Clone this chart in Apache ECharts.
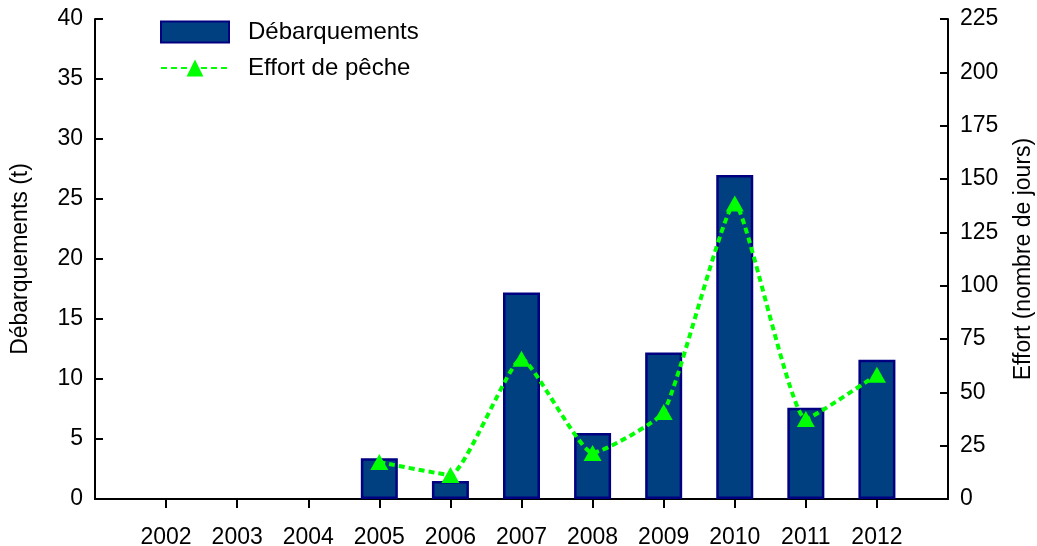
<!DOCTYPE html>
<html>
<head>
<meta charset="utf-8">
<script src="https://cdn.jsdelivr.net/npm/echarts@6/dist/echarts.min.js"></script>
<style>
  html, body { margin: 0; padding: 0; background: #fff; }
  #chart { width: 1037px; height: 546px; }
</style>
</head>
<body>
<div id="chart"></div>
<script>
// years shown on the x axis (padded with an empty slot each side)
const years = ['2002', '2003', '2004', '2005', '2006', '2007', '2008', '2009', '2010', '2011', '2012']
const debarquements = [null, null, null, 3.4, 1.5, 17.2, 5.5, 12.2, 27.0, 7.6, 11.6]
const effort = [null, null, null, 17.3, 11.3, 65.8, 21.6, 40.8, 138.5, 37.5, 58.3]
const leftTicks = { min: 0, max: 40, interval: 5 }
const rightTicks = { min: 0, max: 225, interval: 25 }

const categories = [''].concat(years, [''])
const pad = (arr) => [null].concat(arr, [null])

const font = 'Liberation Sans, Arial, sans-serif'
const chart = echarts.init(document.getElementById('chart'))

const option = {
  animation: false,
  backgroundColor: '#fff',
  textStyle: { fontFamily: font, color: '#000' },
  grid: { left: 95, right: 89, top: 19, bottom: 47, outerBoundsMode: 'none' },
  legend: {
    orient: 'vertical',
    left: 160,
    top: 20,
    padding: 0,
    itemWidth: 68,
    itemHeight: 21,
    itemGap: 12,
    textStyle: { fontSize: 24, fontFamily: font, color: '#000', padding: [0, 0, 0, 14] },
    data: [
      { name: 'Débarquements', icon: 'rect' },
      { name: 'Effort de pêche' }
    ]
  },
  xAxis: {
    type: 'category',
    data: categories,
    boundaryGap: false,
    axisLine: { lineStyle: { color: '#000', width: 2 } },
    axisTick: {
      length: 9,
      inside: false,
      interval: (i, v) => v !== '',
      lineStyle: { color: '#000', width: 2 }
    },
    axisLabel: { interval: 0, fontSize: 23, color: '#000', margin: 27 },
    splitLine: { show: false }
  },
  yAxis: [
    {
      type: 'value',
      min: leftTicks.min,
      max: leftTicks.max,
      interval: leftTicks.interval,
      name: 'Débarquements (t)',
      nameLocation: 'middle',
      nameRotate: 90,
      nameGap: 63,
      nameTextStyle: { fontSize: 23, color: '#000' },
      axisLine: { show: true, lineStyle: { color: '#000', width: 2 } },
      axisTick: { show: true, inside: true, length: 8, lineStyle: { color: '#000', width: 2 } },
      axisLabel: { fontSize: 23, color: '#000', margin: 12 },
      splitLine: { show: false }
    },
    {
      type: 'value',
      min: rightTicks.min,
      max: rightTicks.max,
      interval: rightTicks.interval,
      position: 'right',
      name: 'Effort (nombre de jours)',
      nameLocation: 'middle',
      nameRotate: 90,
      nameGap: 64,
      nameTextStyle: { fontSize: 23, color: '#000' },
      axisLine: { show: true, lineStyle: { color: '#000', width: 2 } },
      axisTick: { show: true, inside: true, length: 8, lineStyle: { color: '#000', width: 2 } },
      axisLabel: { fontSize: 23, color: '#000', margin: 12 },
      splitLine: { show: false }
    }
  ],
  series: [
    {
      name: 'Débarquements',
      type: 'bar',
      barWidth: 37,
      data: pad(debarquements),
      itemStyle: { color: '#004080', borderColor: '#000080', borderWidth: 2.5 }
    },
    {
      name: 'Effort de pêche',
      type: 'line',
      yAxisIndex: 1,
      smooth: 0.15,
      data: pad(effort),
      symbol: 'triangle',
      symbolSize: [18, 16],
      lineStyle: { color: '#00ff00', width: 4, type: [6, 4] },
      itemStyle: { color: '#00ff00' }
    }
  ]
}

chart.setOption(option)
</script>
</body>
</html>
